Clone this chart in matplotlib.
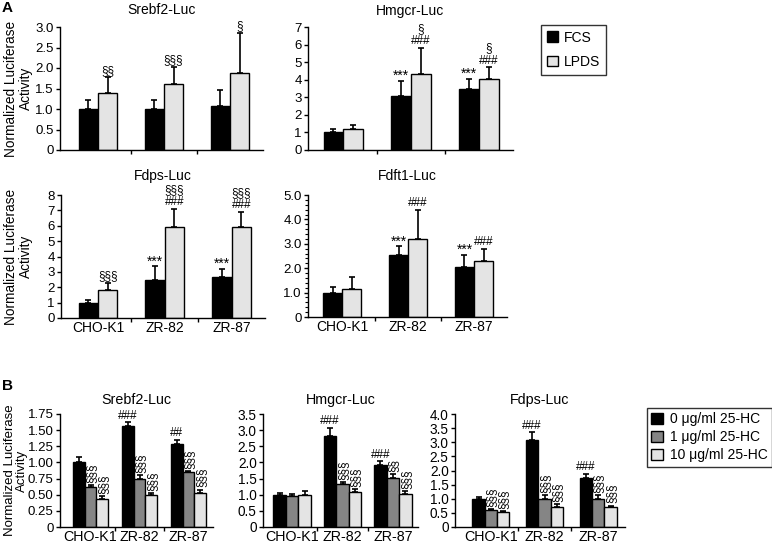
import matplotlib
matplotlib.use("Agg")
import matplotlib.pyplot as plt
from matplotlib.patches import Patch
import numpy as np

plt.rcParams['font.family'] = ['Liberation Sans', 'DejaVu Sans']

categories = ["CHO-K1", "ZR-82", "ZR-87"]

# ---------- Panel A data ----------
a_series = ["FCS", "LPDS"]
srebf2_fcs = [1.0, 1.0, 1.08];  srebf2_fcs_err = [0.22, 0.22, 0.38]
srebf2_lpds = [1.38, 1.62, 1.88]; srebf2_lpds_err = [0.39, 0.40, 0.97]
hmgcr_fcs = [1.0, 3.05, 3.45];  hmgcr_fcs_err = [0.2, 0.9, 0.6]
hmgcr_lpds = [1.2, 4.35, 4.05]; hmgcr_lpds_err = [0.25, 1.45, 0.65]
fdps_fcs = [1.0, 2.45, 2.65];   fdps_fcs_err = [0.15, 0.9, 0.55]
fdps_lpds = [1.8, 5.9, 5.95];   fdps_lpds_err = [0.5, 1.2, 0.95]
fdft1_fcs = [1.0, 2.55, 2.05];  fdft1_fcs_err = [0.22, 0.35, 0.5]
fdft1_lpds = [1.15, 3.2, 2.3];  fdft1_lpds_err = [0.5, 1.2, 0.5]

srebf2_ann = [[[], [], []], [["§§"], ["§§§"], ["§"]]]
hmgcr_ann = [[[], ["***"], ["***"]], [[], ["###", "§"], ["###", "§"]]]
fdps_ann = [[[], ["***"], ["***"]], [["§§§"], ["###", "§§§"], ["###", "§§§"]]]
fdft1_ann = [[[], ["***"], ["***"]], [[], ["###"], ["###"]]]

srebf2_ticks = [0, 0.5, 1.0, 1.5, 2.0, 2.5, 3.0]
srebf2_ticklabels = ["0", "0.5", "1.0", "1.5", "2.0", "2.5", "3.0"]
hmgcr_ticks = [0, 1, 2, 3, 4, 5, 6, 7]
hmgcr_ticklabels = ["0", "1", "2", "3", "4", "5", "6", "7"]
fdps_ticks = [0, 1, 2, 3, 4, 5, 6, 7, 8]
fdps_ticklabels = ["0", "1", "2", "3", "4", "5", "6", "7", "8"]
fdft1_ticks = [0, 1, 2, 3, 4, 5]
fdft1_ticklabels = ["0", "1.0", "2.0", "3.0", "4.0", "5.0"]

# ---------- Panel B data ----------
b_series = ["0 μg/ml 25-HC", "1 μg/ml 25-HC", "10 μg/ml 25-HC"]
b_srebf2_0 = [1.0, 1.57, 1.29];  b_srebf2_0_err = [0.08, 0.05, 0.06]
b_srebf2_1 = [0.62, 0.75, 0.855]; b_srebf2_1_err = [0.03, 0.05, 0.015]
b_srebf2_10 = [0.44, 0.49, 0.52]; b_srebf2_10_err = [0.04, 0.03, 0.06]
b_hmgcr_0 = [1.0, 2.82, 1.93];   b_hmgcr_0_err = [0.06, 0.25, 0.1]
b_hmgcr_1 = [0.95, 1.32, 1.52];  b_hmgcr_1_err = [0.08, 0.06, 0.12]
b_hmgcr_10 = [0.98, 1.07, 1.02]; b_hmgcr_10_err = [0.12, 0.1, 0.08]
b_fdps_0 = [1.0, 3.08, 1.73];    b_fdps_0_err = [0.05, 0.27, 0.14]
b_fdps_1 = [0.6, 1.0, 1.0];      b_fdps_1_err = [0.04, 0.12, 0.12]
b_fdps_10 = [0.52, 0.72, 0.72];  b_fdps_10_err = [0.05, 0.08, 0.04]

b_srebf2_ann = [["", "###", "##"], ["§§§", "§§§", "§§§"], ["§§§", "§§§", "§§§"]]
b_hmgcr_ann = [["", "###", "###"], ["", "§§§", "§§"], ["", "§§§", "§§§"]]
b_fdps_ann = [["", "###", "###"], ["§§§", "§§§", "§§§"], ["§§§", "§§§", "§§§"]]

b_srebf2_ticks = [0, 0.25, 0.5, 0.75, 1.0, 1.25, 1.5, 1.75]
b_srebf2_ticklabels = ["0", "0.25", "0.50", "0.75", "1.00", "1.25", "1.50", "1.75"]
b_hmgcr_ticks = [0, 0.5, 1.0, 1.5, 2.0, 2.5, 3.0, 3.5]
b_hmgcr_ticklabels = ["0", "0.5", "1.0", "1.5", "2.0", "2.5", "3.0", "3.5"]
b_fdps_ticks = [0, 0.5, 1.0, 1.5, 2.0, 2.5, 3.0, 3.5, 4.0]
b_fdps_ticklabels = ["0", "0.5", "1.0", "1.5", "2.0", "2.5", "3.0", "3.5", "4.0"]

a_colors = ["#000000", "#e4e4e4"]
b_colors = ["#000000", "#858585", "#e4e4e4"]

W, H = 772, 550
fig = plt.figure(figsize=(W / 100, H / 100), dpi=100)


def add_ax(left, right, top, bottom):
    return fig.add_axes([left / W, 1 - bottom / H, (right - left) / W, (bottom - top) / H])


def style(ax, ticks, ticklabels, xl, tick_fs=9.5, x_fs=10):
    ax.spines['top'].set_visible(False)
    ax.spines['right'].set_visible(False)
    ax.spines['left'].set_linewidth(1.0)
    ax.spines['bottom'].set_linewidth(1.0)
    ax.set_ylim(ticks[0], ticks[-1])
    ax.set_yticks(ticks)
    ax.set_yticklabels(ticklabels, fontsize=tick_fs)
    ax.tick_params(axis='y', direction='out', length=3, width=1, pad=1.5)
    ax.set_xlim(xl, 2.5)
    ax.set_xticks(np.arange(3))
    ax.set_xticklabels(categories, fontsize=x_fs)
    ax.tick_params(axis='x', length=0, pad=2)
    ax.set_xticks([0.5, 1.5], minor=True)
    ax.tick_params(axis='x', which='minor', direction='out', length=3, width=1)


def draw_group(ax, series, errs, colors, width, anns, rotated_from=99, show_x=True):
    n = len(series)
    x = np.arange(3)
    offs = (np.arange(n) - (n - 1) / 2) * width
    for i in range(n):
        xi = x + offs[i]
        ax.bar(xi, series[i], width, color=colors[i], edgecolor='black', linewidth=1.0, zorder=2)
        ax.errorbar(xi, series[i], yerr=[np.zeros(3), errs[i]], fmt='none', ecolor='black',
                    elinewidth=1.2, capsize=2.2, capthick=1.2, zorder=3)
        for j in range(3):
            top = series[i][j] + errs[i][j]
            a = anns[i][j]
            if isinstance(a, str):
                a = [a] if a else []
            if i >= rotated_from:
                for s in a:
                    ax.annotate(s, (xi[j], top), xytext=(0.5, 1.5), textcoords='offset points',
                                ha='center', va='bottom', rotation=90, fontsize=8.5)
            else:
                for k, s in enumerate(a):
                    fs = 10 if s.startswith("*") else 8.5
                    dy = -1.5 if s.startswith("*") else 0.5
                    ax.annotate(s, (xi[j], top), xytext=(0, dy + 9 * k), textcoords='offset points',
                                ha='center', va='bottom', fontsize=fs)
    if not show_x:
        ax.set_xticklabels([])


ylabel = "Normalized Luciferase\nActivity"


def set_ylab(ax, left_px, right_px, fs, edge=33, ls=1.1):
    ax.set_ylabel(ylabel, fontsize=fs, linespacing=ls)
    ax.yaxis.set_label_coords((edge - left_px) / (right_px - left_px), 0.5)


# Panel A
ax1 = add_ax(60, 263, 27, 150)
style(ax1, srebf2_ticks, srebf2_ticklabels, -0.5 - 5 / 66)
draw_group(ax1, [srebf2_fcs, srebf2_lpds], [srebf2_fcs_err, srebf2_lpds_err], a_colors, 0.29, srebf2_ann, show_x=False)
ax1.set_title("Srebf2-Luc", fontsize=10, pad=9)
set_ylab(ax1, 60, 263, 9.8)

ax2 = add_ax(308, 513, 27, 150)
style(ax2, hmgcr_ticks, hmgcr_ticklabels, -0.52)
draw_group(ax2, [hmgcr_fcs, hmgcr_lpds], [hmgcr_fcs_err, hmgcr_lpds_err], a_colors, 0.29, hmgcr_ann, show_x=False)
ax2.set_title("Hmgcr-Luc", fontsize=10, pad=9)

ax3 = add_ax(61, 265, 195, 318)
style(ax3, fdps_ticks, fdps_ticklabels, -0.5 - 3.5 / 67)
draw_group(ax3, [fdps_fcs, fdps_lpds], [fdps_fcs_err, fdps_lpds_err], a_colors, 0.29, fdps_ann)
ax3.set_title("Fdps-Luc", fontsize=10, pad=11)
set_ylab(ax3, 61, 265, 9.8)

ax4 = add_ax(308, 507, 195, 317)
style(ax4, fdft1_ticks, fdft1_ticklabels, -0.52)
draw_group(ax4, [fdft1_fcs, fdft1_lpds], [fdft1_fcs_err, fdft1_lpds_err], a_colors, 0.29, fdft1_ann)
ax4.set_yticks(np.arange(0, 5.01, 0.2), minor=True)
ax4.tick_params(axis='y', which='minor', direction='out', length=2, width=0.8)
ax4.set_title("Fdft1-Luc", fontsize=10, pad=11)

leg_a = fig.legend(handles=[Patch(facecolor=c, edgecolor='black', linewidth=1.0) for c in a_colors],
                   labels=a_series, loc='upper left', bbox_to_anchor=(541 / W, 1 - 25 / H),
                   fontsize=10, frameon=True, fancybox=False, edgecolor='black',
                   handlelength=0.8, handleheight=0.8, handletextpad=0.45, borderpad=0.4,
                   labelspacing=0.75, borderaxespad=0)
leg_a.get_frame().set_linewidth(1.0)

# Panel B
bx1 = add_ax(60, 213, 414, 527)
style(bx1, b_srebf2_ticks, b_srebf2_ticklabels, -0.5 - 6 / 49, tick_fs=9.5, x_fs=10.3)
draw_group(bx1, [b_srebf2_0, b_srebf2_1, b_srebf2_10], [b_srebf2_0_err, b_srebf2_1_err, b_srebf2_10_err],
           b_colors, 0.24, b_srebf2_ann, rotated_from=1)
bx1.set_title("Srebf2-Luc", fontsize=10.3, pad=7)
set_ylab(bx1, 60, 213, 9.5, edge=28, ls=1.0)

bx2 = add_ax(263, 418, 414, 527)
style(bx2, b_hmgcr_ticks, b_hmgcr_ticklabels, -0.5 - 4 / 50, tick_fs=9.8, x_fs=10.3)
draw_group(bx2, [b_hmgcr_0, b_hmgcr_1, b_hmgcr_10], [b_hmgcr_0_err, b_hmgcr_1_err, b_hmgcr_10_err],
           b_colors, 0.25, b_hmgcr_ann, rotated_from=1)
bx2.set_title("Hmgcr-Luc", fontsize=10.3, pad=7)

bx3 = add_ax(455, 625, 414, 527)
style(bx3, b_fdps_ticks, b_fdps_ticklabels, -0.5 - 9 / 53.5, tick_fs=9.8, x_fs=10.3)
draw_group(bx3, [b_fdps_0, b_fdps_1, b_fdps_10], [b_fdps_0_err, b_fdps_1_err, b_fdps_10_err],
           b_colors, 0.23, b_fdps_ann, rotated_from=1)
bx3.set_title("Fdps-Luc", fontsize=10.3, pad=7)

leg_b = fig.legend(handles=[Patch(facecolor=c, edgecolor='black', linewidth=1.0) for c in b_colors],
                   labels=b_series, loc='upper left', bbox_to_anchor=(647 / W, 1 - 408 / H),
                   fontsize=10, frameon=True, fancybox=False, edgecolor='black',
                   handlelength=0.85, handleheight=0.85, handletextpad=0.5, borderpad=0.3,
                   labelspacing=0.3, borderaxespad=0)
leg_b.get_frame().set_linewidth(1.0)

fig.text(2 / W, 1 - 1 / H, "A", fontsize=11, fontweight='bold', va='top', ha='left')
fig.text(2 / W, 1 - 379 / H, "B", fontsize=11, fontweight='bold', va='top', ha='left')

fig.savefig("out.png", dpi=100)
